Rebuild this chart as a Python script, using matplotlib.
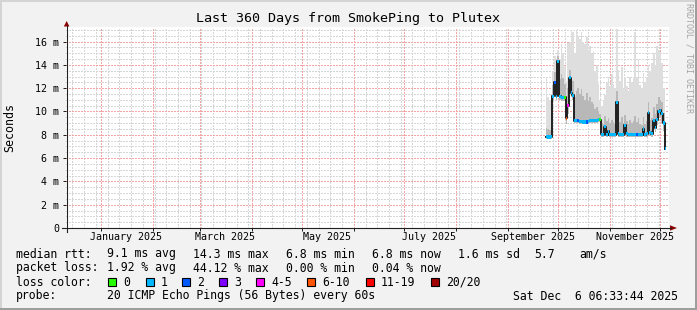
import numpy as np
import matplotlib
matplotlib.use("Agg")
import matplotlib.pyplot as plt
from matplotlib.patches import Polygon, Rectangle
from datetime import datetime, timedelta

# --- data (ms), one value per day starting 2025-09-24 ---
start_day = datetime(2025, 9, 24)
median = [7.85, 7.80, 7.80, 7.85,
          11.3, 12.5, 11.3, 14.3, 11.3, 11.2, 11.2, 11.2,
          9.4, 10.5, 12.9, 11.6, 11.4,
          9.2, 9.25, 9.2, 9.15, 9.15, 9.1, 9.1, 9.1, 9.15, 9.2, 9.2, 9.25, 9.25, 9.25, 9.3, 9.3,
          8.05, 8.0, 8.7, 8.0, 8.3, 8.0, 8.0, 8.0, 8.0,
          10.8, 8.1, 8.0, 8.0, 8.0, 8.8, 8.1, 8.0,
          8.0, 8.0, 8.0, 8.0, 8.0, 8.0, 8.0, 8.0,
          8.5, 8.0, 8.1, 9.9, 8.2, 8.1, 9.2, 8.6,
          9.3, 10.0, 10.1, 9.8, 9.0, 6.8]
lost = [1, 1, 1, 1,
        1, 2, 1, 1, 1, 1, 1, 0,
        8, 4, 1, 1, 1,
        1, 1, 2, 1, 1, 1, 1, 2, 1, 1, 1, 1, 1, 1, 1, 0,
        1, 1, 1, 1, 1, 1, 1, 1, 1,
        1, 1, 1, 1, 1, 1, 1, 1,
        1, 1, 1, 1, 2, 1, 1, 1,
        1, 1, 1, 1, 1, 1, 1, 1,
        1, 1, 1, 1, 1, 1]
smoke_hi = [13.0, 11.2, 11.0, 11.5,
            13.5, 14.8, 14.0, 15.3, 14.5, 15.8, 15.0, 13.8,
            12.5, 15.9, 16.0, 17.0, 16.8,
            15.0, 16.9, 16.5, 16.2, 16.8, 16.0, 15.8, 16.4, 15.3, 15.6, 14.9, 15.2, 13.5, 14.0, 12.4, 11.0,
            10.5, 11.0, 11.4, 12.5, 13.0, 12.2, 13.2, 12.4, 12.0,
            17.1, 13.6, 12.6, 13.8, 12.0, 13.0, 12.2, 11.8,
            13.0, 12.5, 13.0, 16.8, 13.0, 14.5, 12.3, 12.0,
            13.3, 12.5, 13.0, 14.0, 13.5, 14.2, 15.0, 14.0,
            15.6, 15.3, 15.1, 14.2, 12.0, 9.0]
smoke_mid = [8.6, 8.5, 8.4, 8.6,
             12.3, 13.4, 12.6, 14.8, 12.8, 13.2, 12.9, 12.4,
             11.0, 12.0, 13.6, 12.9, 12.6,
             11.2, 11.8, 12.0, 11.5, 11.9, 11.3, 11.0, 11.6, 10.9, 11.2, 10.8, 10.6, 10.2, 10.4, 10.0, 9.8,
             9.0, 8.9, 9.6, 9.2, 9.4, 9.0, 9.3, 9.1, 8.9,
             11.8, 9.4, 9.1, 9.5, 9.0, 9.7, 9.2, 8.9,
             9.3, 9.0, 9.2, 9.6, 9.1, 9.4, 8.9, 8.8,
             9.5, 8.9, 9.2, 10.8, 9.3, 9.4, 10.4, 9.8,
             10.6, 11.2, 11.0, 10.8, 9.9, 7.6]
smoke_lo = [7.6, 7.6, 7.6, 7.6,
            10.9, 11.6, 11.0, 12.4, 11.0, 10.9, 10.9, 10.9,
            8.9, 9.8, 11.8, 11.2, 11.0,
            9.0, 9.0, 9.0, 8.95, 8.95, 8.9, 8.9, 8.9, 8.95, 9.0, 9.0, 9.0, 9.05, 9.05, 9.1, 9.1,
            7.85, 7.8, 8.1, 7.8, 7.9, 7.8, 7.8, 7.8, 7.8,
            9.2, 7.85, 7.8, 7.8, 7.8, 8.2, 7.85, 7.8,
            7.8, 7.8, 7.8, 7.8, 7.8, 7.8, 7.8, 7.8,
            8.0, 7.8, 7.85, 8.8, 7.9, 7.85, 8.6, 8.2,
            8.8, 9.4, 9.5, 9.0, 8.3, 6.6]

loss_labels = ["0", "1", "2", "3", "4-5", "6-10", "11-19", "20/20"]
loss_colors = ["#26ff00", "#00b8ff", "#0059ff", "#7e00ff", "#ff00ff", "#ff5500", "#ff0000", "#a10000"]
loss_bounds = [0, 1, 2, 3, 5, 10, 19, 20]

end_time = datetime(2025, 12, 6, 6, 33, 44)
start_time = end_time - timedelta(days=360)

days = [start_day + timedelta(days=i) for i in range(len(median))]
idx = [next(j for j, b in enumerate(loss_bounds) if n <= b) for n in lost]
band_colors = [loss_colors[j] for j in idx]

# --- figure ---
W, H = 697, 310
fig = plt.figure(figsize=(W / 100, H / 100), dpi=100, facecolor="#f2f2f2")
mono = "DejaVu Sans Mono"

x0, x1, y0, y1 = 66.2, 669.2, 27, 228
ax = fig.add_axes([x0 / W, 1 - y1 / H, (x1 - x0) / W, (y1 - y0) / H])
ax.set_facecolor("white")
ymax = 17.25
ax.set_xlim(start_time, end_time)
ax.set_ylim(0, ymax)
for s in ax.spines.values():
    s.set_visible(False)

# grid (dotted, 1px)
months = [datetime(2025, m, 1) for m in range(1, 13)]
sundays = [datetime(2024, 12, 15) + timedelta(weeks=w) for w in range(52)]
dot = (0, (1.4, 1.4))
gkw = dict(lw=0.72, ls=dot, antialiased=False)
for d in sundays:
    ax.axvline(d, color="#d6d6d6", zorder=0, **gkw)
for v in np.arange(0.5, ymax, 0.5):
    ax.axhline(v, color="#d6d6d6", zorder=0, **gkw)
for d in months:
    ax.axvline(d, color="#f2a6a6", zorder=0.5, **gkw)
for v in range(2, 17, 2):
    ax.axhline(v, color="#f2a6a6", zorder=0.5, **gkw)

# smoke
ax.fill_between(days, smoke_lo, smoke_hi, step="mid", color="#dedede", lw=0, zorder=1)
ax.fill_between(days, smoke_lo, smoke_mid, step="mid", color="#b8b8b8", lw=0, zorder=1.1)
ax.step(days, median, where="mid", color="#202020", lw=1.4, zorder=2)
ax.bar(days, [0.28] * len(median), bottom=[m - 0.14 for m in median], width=1.0,
       color=band_colors, lw=0, zorder=3)

ax.set_yticks(range(0, 17, 2))
ax.set_yticklabels(["0"] + [f"{v} m" for v in range(2, 17, 2)], fontfamily=mono, fontsize=7.2)
ax.set_xticks(months)
ax.set_xticklabels([])
ax.tick_params(axis="y", length=2.5, width=0.72, color="#202020", pad=2.5)
ax.tick_params(axis="x", length=2.5, width=0.72, color="#202020", pad=0)
for m, name in [(1, "January"), (3, "March"), (5, "May"), (7, "July"), (9, "September"), (11, "November")]:
    ax.text(datetime(2025, m, 16), -0.045, f"{name} 2025", transform=ax.get_xaxis_transform(),
            ha="center", va="center", fontfamily=mono, fontsize=7.2)

# --- overlay in pixel coords ---
ov = fig.add_axes([0, 0, 1, 1], zorder=5)
ov.set_xlim(0, W)
ov.set_ylim(H, 0)
ov.axis("off")
ov.patch.set_alpha(0)

# frame shading
ov.add_patch(Rectangle((0, 0), W, 2, color="#d4d4d4", lw=0))
ov.add_patch(Rectangle((0, 0), 2, H, color="#d4d4d4", lw=0))
ov.add_patch(Rectangle((W - 2, 0), 2, H, color="#9e9e9e", lw=0))
ov.add_patch(Rectangle((0, H - 2.5), W, 2.5, color="#9e9e9e", lw=0))

# axes lines + arrows
ov.plot([x0 + 0.5, x0 + 0.5], [232, 26], color="#202020", lw=0.8)
ov.plot([62, 671], [y1, y1], color="#202020", lw=0.8)
ov.add_patch(Polygon([(63.8, 26.5), (69.4, 26.5), (66.7, 21)], color="#8b0000", lw=0))
ov.add_patch(Polygon([(670, 225.3), (670, 230.7), (677, 228)], color="#8b0000", lw=0))

ov.text(348, 18.5, "Last 360 Days from SmokePing to Plutex", ha="center", va="center",
        fontfamily=mono, fontsize=9.6)
ov.text(10, 128, "Seconds", rotation=90, ha="center", va="center", fontfamily=mono, fontsize=8.4)
ov.text(688.5, 3, "RRDTOOL / TOBI OETIKER", rotation=270, ha="center", va="top",
        fontfamily=mono, fontsize=6, color="#a4a4a4")

fs = 8.3
rows = [
    (254, [(16, "median rtt:"), (107, "9.1 ms avg"), (193, "14.3 ms max"), (286, "6.8 ms min"),
           (372, "6.8 ms now"), (458, "1.6 ms sd"), (534, "5.7"), (579, "am/s")]),
    (268, [(16, "packet loss:"), (107, "1.92 % avg"), (193, "44.12 % max"), (286, "0.00 % min"),
           (372, "0.04 % now")]),
    (282, [(16, "loss color:")]),
    (296, [(16, "probe:"), (107, "20 ICMP Echo Pings (56 Bytes) every 60s"),
           (513, "Sat Dec  6 06:33:44 2025")]),
]
for yy, items in rows:
    for xx, s in items:
        ov.text(xx, yy, s, ha="left", va="center", fontfamily=mono, fontsize=fs)

box_x = [108, 146, 182, 219, 256, 307, 366, 431]
for bx, c, lab in zip(box_x, loss_colors, loss_labels):
    ov.add_patch(Rectangle((bx, 278), 8, 8, facecolor=c, edgecolor="black", lw=0.8))
    ov.text(bx + 15, 282, lab, ha="left", va="center", fontfamily=mono, fontsize=fs)

fig.savefig("out.png", dpi=100, facecolor=fig.get_facecolor())
